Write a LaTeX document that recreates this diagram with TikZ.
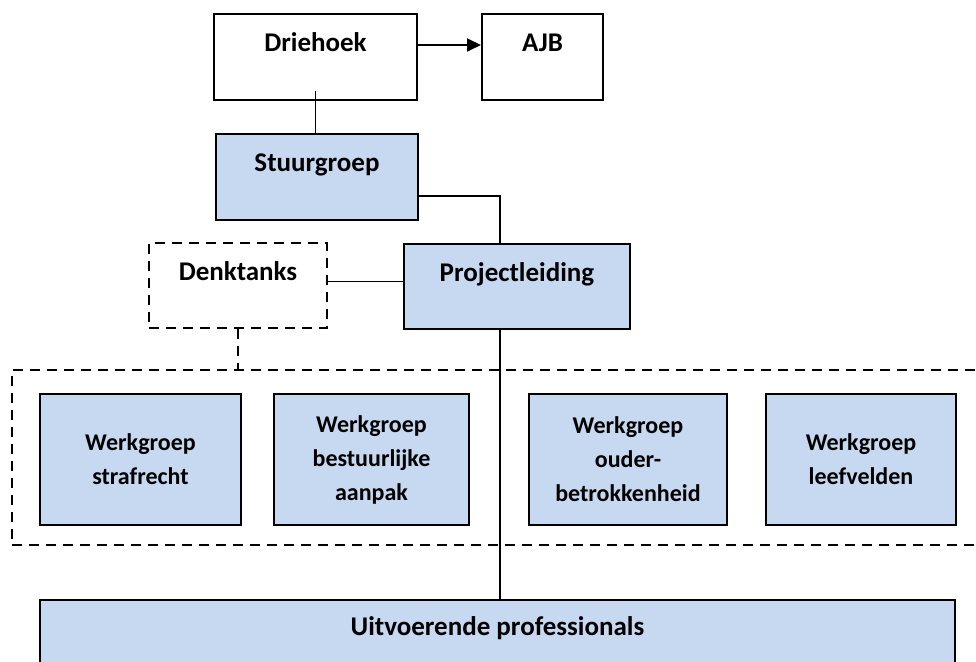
\documentclass[tikz,border=0pt]{standalone}
\usepackage{fontspec}
\setmainfont{Carlito}
\usepackage{tikz}
\usetikzlibrary{arrows.meta,positioning}
\definecolor{boxblue}{RGB}{198,217,241}

\begin{document}
\begin{tikzpicture}[x=0.5pt,y=-0.5pt,
  every node/.style={font=\bfseries\fontsize{13.5}{17}\selectfont},
  plainbox/.style={draw=black,line width=1pt,fill=white,inner ysep=0pt,text height=19pt,text depth=24pt,minimum height=43pt},
  bluebox/.style={plainbox,fill=boxblue},
  dashbox/.style={draw=black,line width=0.8pt,dash pattern=on 5pt off 3.5pt},
  groupbox/.style={draw=black,line width=1pt,fill=boxblue,align=center,minimum height=65.5pt,font=\bfseries\fontsize{12}{17}\selectfont},
  link/.style={draw=black,line width=0.9pt}]
\useasboundingbox (0,0) rectangle (976,662);
\coordinate (spine) at (500,0);

\node[plainbox,minimum width=101.5pt] (drie) at (315.5,57) {Driehoek};
\node[plainbox,minimum width=60.5pt] (ajb) at (542.5,57) {AJB};
\node[bluebox,minimum width=101pt] (stuur) at (317,177) {Stuurgroep};
\node[bluebox,minimum width=113pt,minimum height=42.5pt,text depth=23.5pt] (proj) at (517,286.5) {Projectleiding};
\node[dashbox,inner ysep=0pt,text height=19pt,text depth=23.5pt,minimum width=89pt,minimum height=42.5pt] (denk) at (238,285.5) {Denktanks};

\node[dashbox,inner sep=0pt,minimum width=486pt,minimum height=87.5pt] (wg) at (498,457.5) {};
\node[groupbox,minimum width=100.5pt] (ws) at (140.5,459.5) {Werkgroep\\strafrecht};
\node[groupbox,minimum width=97.5pt] (wb) at (371.5,459.5) {Werkgroep\\bestuurlijke\\aanpak};
\node[groupbox,minimum width=99pt] (wo) at (628,459.5) {Werkgroep\\ouder-\\betrokkenheid};
\node[groupbox,minimum width=95pt] (wl) at (861,459.5) {Werkgroep\\leefvelden};

\node[bluebox,minimum width=457.5pt,minimum height=50pt,text height=18pt,text depth=32pt] (uitv) at (497.5,650) {Uitvoerende professionals};

\draw[link] ([yshift=5pt]drie.south) -- (drie.south |- stuur.north);
\draw[link,-{Triangle[length=7pt,width=6.5pt]}] ([yshift=6pt]drie.east) -- ([yshift=6pt]ajb.west);
\draw[link] ([yshift=-9.5pt]stuur.east) -| (proj.north -| spine);
\draw[link] ([yshift=2pt]denk.east) -- ([yshift=2pt]denk.east -| proj.west);
\draw[link,dash pattern=on 5pt off 3.5pt] (denk.south) -- (denk.south |- wg.north);
\draw[link] (proj.south -| spine) -- (uitv.north -| spine);
\end{tikzpicture}
\end{document}
